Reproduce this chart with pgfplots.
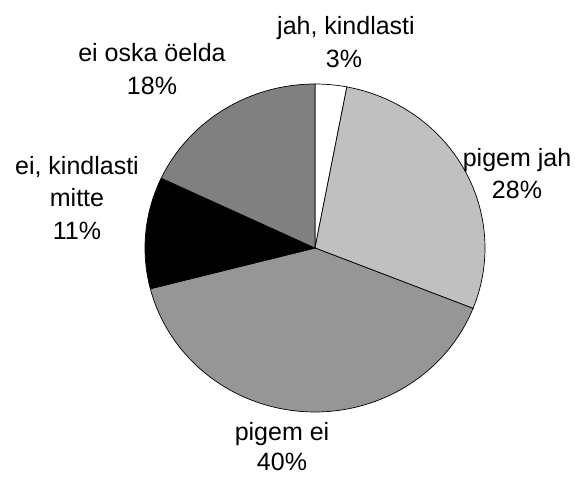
\documentclass[border=0pt]{standalone}
\usepackage{pgfplots}
\pgfplotsset{compat=1.18}
\usepackage{fontspec}
\setmainfont{Liberation Sans}
\definecolor{s1}{RGB}{255,255,255}
\definecolor{s2}{RGB}{192,192,192}
\definecolor{s3}{RGB}{150,150,150}
\definecolor{s4}{RGB}{0,0,0}
\definecolor{s5}{RGB}{128,128,128}
% shares in percent
\def\pA{3}\def\pB{28}\def\pC{40}\def\pD{11}\def\pE{18}
\pgfmathsetmacro\tA{90}
\pgfmathsetmacro\tB{\tA-3.6*\pA}
\pgfmathsetmacro\tC{\tB-3.6*\pB}
\pgfmathsetmacro\tD{\tC-3.6*\pC}
\pgfmathsetmacro\tE{\tD-3.6*\pD}
\pgfmathsetmacro\tF{\tE-3.6*\pE}
\tikzset{lbl/.style={font=\fontsize{25}{29}\selectfont,anchor=base,inner sep=0pt}}
\begin{document}
\begin{tikzpicture}
\begin{axis}[x=1pt,y=1pt,xmin=0,xmax=575,ymin=0,ymax=477,hide axis,clip=false]
\addplot[fill=s1,draw=black,line width=0.7pt,domain=\tB:\tA,samples=20] ({315+170*cos(x)},{229+164*sin(x)}) -- (axis cs:315,229) -- cycle;
\addplot[fill=s2,draw=black,line width=0.7pt,domain=\tC:\tB,samples=60] ({315+170*cos(x)},{229+164*sin(x)}) -- (axis cs:315,229) -- cycle;
\addplot[fill=s3,draw=black,line width=0.7pt,domain=\tD:\tC,samples=80] ({315+170*cos(x)},{229+164*sin(x)}) -- (axis cs:315,229) -- cycle;
\addplot[fill=s4,draw=black,line width=0.7pt,domain=\tE:\tD,samples=30] ({315+170*cos(x)},{229+164*sin(x)}) -- (axis cs:315,229) -- cycle;
\addplot[fill=s5,draw=black,line width=0.7pt,domain=\tF:\tE,samples=40] ({315+170*cos(x)},{229+164*sin(x)}) -- (axis cs:315,229) -- cycle;
\node[lbl] at (axis cs:346,442) {jah, kindlasti};
\node[lbl] at (axis cs:344,409) {3\%};
\node[lbl] at (axis cs:517,310) {pigem jah};
\node[lbl] at (axis cs:517,278) {28\%};
\node[lbl] at (axis cs:282,37) {pigem ei};
\node[lbl] at (axis cs:282,7) {40\%};
\node[lbl] at (axis cs:77,302) {ei, kindlasti};
\node[lbl] at (axis cs:77,270) {mitte};
\node[lbl] at (axis cs:77,237) {11\%};
\node[lbl] at (axis cs:152,415) {ei oska öelda};
\node[lbl] at (axis cs:152,382) {18\%};
\end{axis}
\pgfresetboundingbox
\path[use as bounding box] (current axis.south west) rectangle (current axis.north east);
\end{tikzpicture}
\end{document}
